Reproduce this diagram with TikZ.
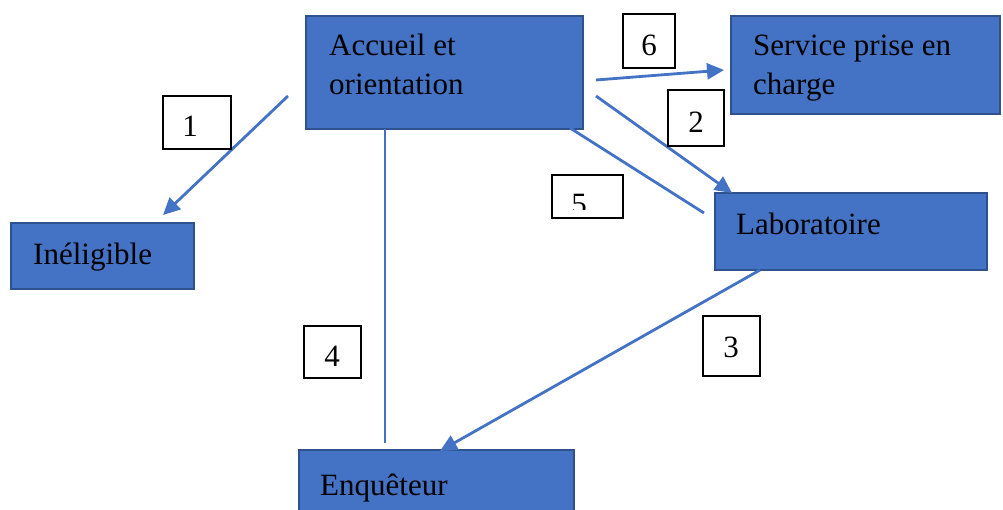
\documentclass[tikz,border=0pt]{standalone}
\usepackage{fontspec}
\setmainfont{Liberation Serif}
\usetikzlibrary{arrows.meta}
\definecolor{boxblue}{HTML}{4472C4}
\definecolor{boxedge}{HTML}{2F528F}
\tikzset{
  bluebox/.style={draw=boxedge, line width=2pt, fill=boxblue, inner sep=0pt},
  numbox/.style={draw=black, line width=1.2pt, fill=white, inner sep=0pt},
  txt/.style={anchor=base west, inner sep=0pt, font=\fontsize{31}{38}\selectfont, text=black},
  numtxt/.style={anchor=base, inner sep=0pt, font=\fontsize{31}{38}\selectfont, text=black},
  conn/.style={draw=boxblue, line width=2.8pt},
  arr/.style={conn, -{Triangle[length=17pt,width=16pt]}}
}
\begin{document}
\begin{tikzpicture}[x=1pt,y=-1pt]
\clip (0,0) rectangle (1003,510);
\fill[white] (0,0) rectangle (1003,510);
% blue boxes
\node[bluebox, minimum width=277pt, minimum height=113pt] (acc) at (444.5,72.5) {};
\node[bluebox, minimum width=269pt, minimum height=98pt] (srv) at (865.5,65) {};
\node[bluebox, minimum width=272pt, minimum height=77pt] (lab) at (851,231.5) {};
\node[bluebox, minimum width=183pt, minimum height=66pt] (ine) at (102.5,256) {};
\node[bluebox, minimum width=275pt, minimum height=80pt] (enq) at (436.5,490) {};
% texts
\node[txt] (acct1) at (329,56) {Accueil et};
\node[txt] (acct2) at (329,95) {orientation};
\node[txt] (srvt1) at (753,56) {Service prise en};
\node[txt] (srvt2) at (753,95) {charge};
\node[txt] (labt) at (736,235) {Laboratoire};
\node[txt] (inet) at (33,265) {Inéligible};
\node[txt] (enqt) at (320,495) {Enquêteur};
% connector end points
\coordinate (c1a) at (288,96);
\coordinate (c1b) at (163,215);
\coordinate (c6a) at (596,80);
\coordinate (c6b) at (724,70);
\coordinate (c2a) at (596,96);
\coordinate (c2b) at (732,193);
\coordinate (c5a) at (570,128);
\coordinate (c5b) at (704,213);
\coordinate (c4a) at (385,129);
\coordinate (c4b) at (385,443);
\coordinate (c3a) at (760,270);
\coordinate (c3b) at (440,451);
% connectors
\draw[arr] (c1a) -- (c1b);
\draw[arr] (c6a) -- (c6b);
\draw[arr] (c2a) -- (c2b);
\draw[conn] (c5a) -- (c5b);
\draw[conn] (c4a) -- (c4b);
\draw[arr] (c3a) -- (c3b);
% number boxes
\node[numbox, minimum width=68pt, minimum height=53pt] (n1) at (197,122.5) {};
\node[numbox, minimum width=52pt, minimum height=54pt] (n6) at (649,41) {};
\node[numbox, minimum width=56pt, minimum height=56pt] (n2) at (696,118) {};
\node[numbox, minimum width=71pt, minimum height=43pt] (n5) at (587.5,196.5) {};
\node[numbox, minimum width=57pt, minimum height=52pt] (n4) at (332.5,352) {};
\node[numbox, minimum width=57pt, minimum height=60pt] (n3) at (731.5,346) {};
\node[numtxt] (n1t) at (190,137) {1};
\node[numtxt] (n6t) at (649,56) {6};
\node[numtxt] (n2t) at (696,133) {2};
\node[numtxt] (n4t) at (332,366) {4};
\node[numtxt] (n3t) at (731,357) {3};
\begin{scope}
\clip (553,176) rectangle (622,210);
\node[numtxt] (n5t) at (579,215) {5};
\end{scope}
\end{tikzpicture}
\end{document}
